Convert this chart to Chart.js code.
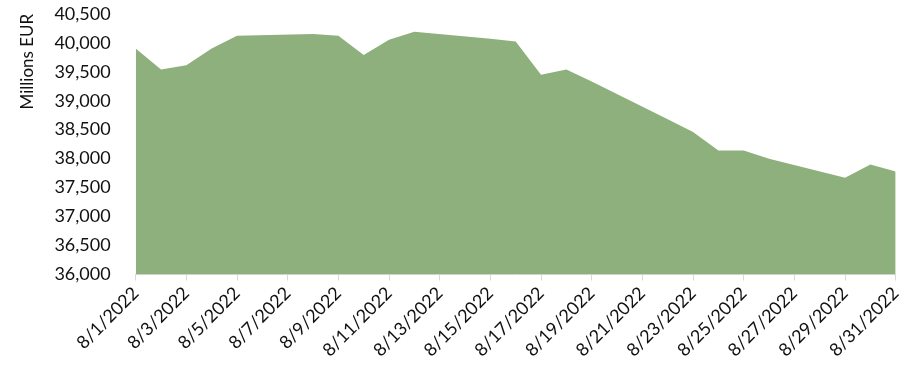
<!DOCTYPE html>
<html>
<head>
<meta charset="utf-8">
<script src="https://cdn.jsdelivr.net/npm/chart.js@4"></script>
<style>
  body { margin: 0; background: #fff; }
  canvas { display: block; }
</style>
</head>
<body>
<canvas id="chart" width="913" height="369"></canvas>
<script>
// Business days of August 2022 (weekends have no value)
const dates = [
  '8/1/2022', '8/2/2022', '8/3/2022', '8/4/2022', '8/5/2022',
  '8/8/2022', '8/9/2022', '8/10/2022', '8/11/2022', '8/12/2022',
  '8/15/2022', '8/16/2022', '8/17/2022', '8/18/2022', '8/19/2022',
  '8/22/2022', '8/23/2022', '8/24/2022', '8/25/2022', '8/26/2022',
  '8/29/2022', '8/30/2022', '8/31/2022'
];

// Millions EUR
const values = [
  39900, 39540, 39610, 39900, 40120,
  40150, 40120, 39790, 40050, 40190,
  40070, 40020, 39450, 39540, 39330,
  38680, 38460, 38140, 38140, 38000,
  37670, 37900, 37780
];

const yTicks = [36000, 36500, 37000, 37500, 38000, 38500, 39000, 39500, 40000, 40500];

const fontFamily = 'Lato, "Open Sans", sans-serif';
const textColor = '#111';

// day of month -> x position on a linear axis
const points = dates.map((d, i) => ({ x: parseInt(d.split('/')[1], 10), y: values[i] }));

new Chart(document.getElementById('chart'), {
  type: 'line',
  data: {
    datasets: [{
      data: points,
      fill: 'start',
      backgroundColor: '#8EB07C',
      borderWidth: 0,
      pointRadius: 0,
      tension: 0
    }]
  },
  options: {
    responsive: false,
    animation: false,
    devicePixelRatio: 1,
    layout: { padding: { top: 8, right: 5, left: 13, bottom: 6 } },
    plugins: {
      legend: { display: false },
      tooltip: { enabled: false }
    },
    scales: {
      x: {
        type: 'linear',
        min: 1,
        max: 31,
        grid: { drawOnChartArea: false, color: '#d9d9d9', tickLength: 6 },
        border: { color: '#d9d9d9' },
        ticks: {
          stepSize: 2,
          maxRotation: 45,
          minRotation: 45,
          padding: 2,
          color: textColor,
          font: { family: fontFamily, size: 18 },
          callback: v => '8/' + v + '/2022'
        }
      },
      y: {
        min: yTicks[0],
        max: yTicks[yTicks.length - 1],
        // invisible tick marks keep the labels away from the plot
        grid: { drawOnChartArea: false, tickLength: 22, color: 'rgba(0,0,0,0)' },
        border: { display: false },
        afterBuildTicks: axis => { axis.ticks = yTicks.map(v => ({ value: v })); },
        ticks: {
          padding: 3,
          color: textColor,
          font: { family: fontFamily, size: 18 },
          callback: v => v.toLocaleString('en-US')
        },
        title: {
          display: true,
          text: 'Millions EUR',
          align: 'end',
          color: textColor,
          padding: { top: 4, bottom: 14 },
          font: { family: fontFamily, size: 17 }
        }
      }
    }
  }
});
</script>
</body>
</html>
